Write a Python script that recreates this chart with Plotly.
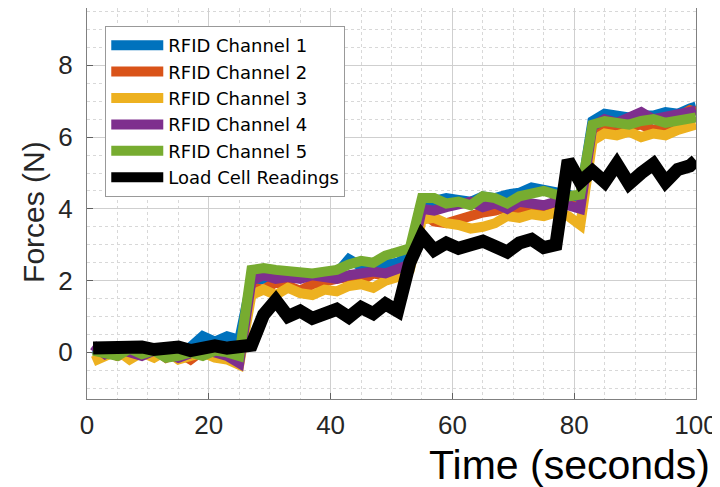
import plotly.graph_objects as go

# Time samples (seconds)
time_s = [1, 3, 5, 7, 9, 11, 13, 15, 17, 19, 21, 23, 25, 27, 29, 31, 33, 35, 37, 39,
          41, 43, 45, 47, 49, 51, 53, 55, 57, 59, 61, 63, 65, 67, 69, 71, 73, 75, 77, 79,
          81, 83, 85, 87, 89, 91, 93, 95, 97, 99, 100]

rfid_ch1 = [0.1, 0.0, 0.05, -0.1, 0.1, 0.0, 0.05, -0.05, 0.15, 0.45, 0.3, 0.45, 0.35,
            2.0, 2.05, 2.1, 2.0, 2.15, 2.1, 2.15, 2.2, 2.6, 2.4, 2.3, 2.45, 2.5, 2.7,
            4.15, 4.2, 4.3, 4.25, 4.2, 4.35, 4.3, 4.4, 4.45, 4.6, 4.55, 4.5, 4.4, 4.3,
            6.45, 6.65, 6.6, 6.55, 6.6, 6.6, 6.7, 6.65, 6.8, 6.85]
rfid_ch2 = [0.0, 0.05, -0.1, 0.0, -0.05, 0.1, -0.15, 0.0, -0.2, 0.05, 0.0, 0.1, -0.1,
            1.8, 1.75, 1.95, 1.85, 1.72, 1.9, 2.0, 2.05, 2.1, 2.0, 2.2, 2.15, 2.3, 2.4,
            3.9, 3.65, 3.6, 3.7, 3.85, 3.9, 3.95, 4.05, 4.0, 4.1, 4.05, 4.2, 4.15, 4.0,
            6.2, 6.3, 6.25, 6.3, 6.35, 6.2, 6.3, 6.55, 6.75, 6.7]
rfid_ch3 = [-0.25, -0.1, 0.05, -0.2, 0.0, -0.15, 0.05, -0.2, -0.1, 0.0, -0.15, -0.2, -0.35,
            1.6, 1.75, 1.6, 1.8, 1.65, 1.6, 1.75, 1.7, 1.85, 1.9, 1.8, 2.0, 2.1, 2.3,
            3.7, 3.75, 3.6, 3.55, 3.45, 3.5, 3.6, 3.8, 3.75, 3.85, 3.8, 3.9, 3.8, 3.55,
            5.9, 6.1, 6.05, 6.15, 6.0, 6.1, 6.05, 6.2, 6.3, 6.35]
rfid_ch4 = [0.2, -0.05, 0.1, 0.0, -0.1, 0.05, 0.0, -0.15, -0.05, 0.1, 0.0, -0.1, -0.3,
            2.0, 2.15, 2.05, 2.1, 2.05, 2.15, 2.1, 2.05, 2.15, 2.2, 2.25, 2.2, 2.3, 2.45,
            4.0, 3.95, 4.05, 4.1, 4.2, 4.05, 4.15, 4.0, 4.2, 4.15, 4.1, 4.2, 4.1, 4.0,
            6.3, 6.5, 6.4, 6.55, 6.7, 6.5, 6.55, 6.6, 6.7, 6.75]
rfid_ch5 = [0.05, 0.0, -0.1, 0.1, -0.05, 0.05, -0.15, -0.1, 0.0, -0.1, 0.05, 0.0, -0.1,
            2.3, 2.35, 2.3, 2.25, 2.25, 2.2, 2.25, 2.3, 2.45, 2.55, 2.5, 2.7, 2.8, 2.9,
            4.3, 4.3, 4.15, 4.2, 4.1, 4.35, 4.3, 4.15, 4.35, 4.45, 4.5, 4.4, 4.35, 4.4,
            6.35, 6.45, 6.4, 6.35, 6.45, 6.5, 6.4, 6.45, 6.5, 6.55]
load_cell = [0.12, 0.15, 0.1, 0.12, 0.15, 0.08, 0.12, 0.15, 0.05, 0.1, 0.18, 0.12, 0.18,
             0.2, 1.05, 1.45, 1.0, 1.15, 0.95, 1.05, 1.2, 0.98, 1.25, 1.08, 1.35, 1.15, 2.5,
             3.25, 2.85, 3.05, 2.9, 3.0, 3.1, 2.95, 2.8, 3.05, 3.15, 2.92, 3.0, 5.35, 4.75,
             5.05, 4.75, 5.25, 4.7, 5.0, 5.25, 4.75, 5.1, 5.2, 5.35]

series_names = ["RFID Channel 1", "RFID Channel 2", "RFID Channel 3",
                "RFID Channel 4", "RFID Channel 5", "Load Cell Readings"]
series_values = [rfid_ch1, rfid_ch2, rfid_ch3, rfid_ch4, rfid_ch5, load_cell]
series_colors = ["#0072BD", "#D95319", "#EDB120", "#7E2F8E", "#77AC30", "#000000"]
series_widths = [10, 10, 10, 10, 10, 13]

x_ticks = [0, 20, 40, 60, 80, 100]
y_ticks = [0, 2, 4, 6, 8]

FONT = "Liberation Sans, Arial, Helvetica, sans-serif"
LEGEND_FONT = "DejaVu Sans, Liberation Sans, Arial, sans-serif"

fig = go.Figure()
for name, vals, col, w in zip(series_names, series_values, series_colors, series_widths):
    fig.add_trace(go.Scatter(x=time_s, y=vals, mode="lines", name=name,
                             line=dict(color=col, width=w)))

axis_common = dict(
    showline=True, linecolor="#808080", linewidth=1, mirror=True,
    ticks="inside", ticklen=6, tickcolor="#606060",
    showgrid=True, gridcolor="#cfcfcf", gridwidth=1,
    zeroline=False, automargin=False,
    tickfont=dict(family=FONT, size=26, color="#262626"),
)

fig.update_xaxes(range=[0, 100], tickvals=x_ticks, ticklabelstandoff=3,
                 minor=dict(dtick=5, showgrid=True, griddash="dot", gridcolor="#d8d8d8"),
                 **axis_common)
fig.update_yaxes(range=[-1.3, 9.6], tickvals=y_ticks, ticklabelstandoff=8,
                 minor=dict(dtick=0.5, showgrid=True, griddash="dot", gridcolor="#d8d8d8"),
                 **axis_common)

fig.add_annotation(text="Time (seconds)", xref="paper", yref="paper",
                   x=1.026, y=-0.168, xanchor="right", yanchor="middle",
                   showarrow=False, font=dict(family=FONT, size=41, color="#000000"))
fig.add_annotation(text="Forces (N)", xref="paper", yref="paper",
                   x=-0.089, y=0.478, xanchor="center", yanchor="middle",
                   textangle=-90, showarrow=False,
                   font=dict(family=FONT, size=30, color="#262626"))

# The page body adds an 8px offset, so the figure is 8px smaller and margins shifted.
fig.update_layout(
    width=712, height=479,
    margin=dict(l=79, r=24, t=0, b=88, autoexpand=False),
    paper_bgcolor="white", plot_bgcolor="white",
    font=dict(family=FONT),
    showlegend=True,
    legend=dict(x=0.03, y=0.954, xanchor="left", yanchor="top",
                bgcolor="white", bordercolor="#999999", borderwidth=1,
                font=dict(family=LEGEND_FONT, size=18, color="#000000"),
                tracegroupgap=0, itemwidth=52),
)

fig.write_html("out.html")
